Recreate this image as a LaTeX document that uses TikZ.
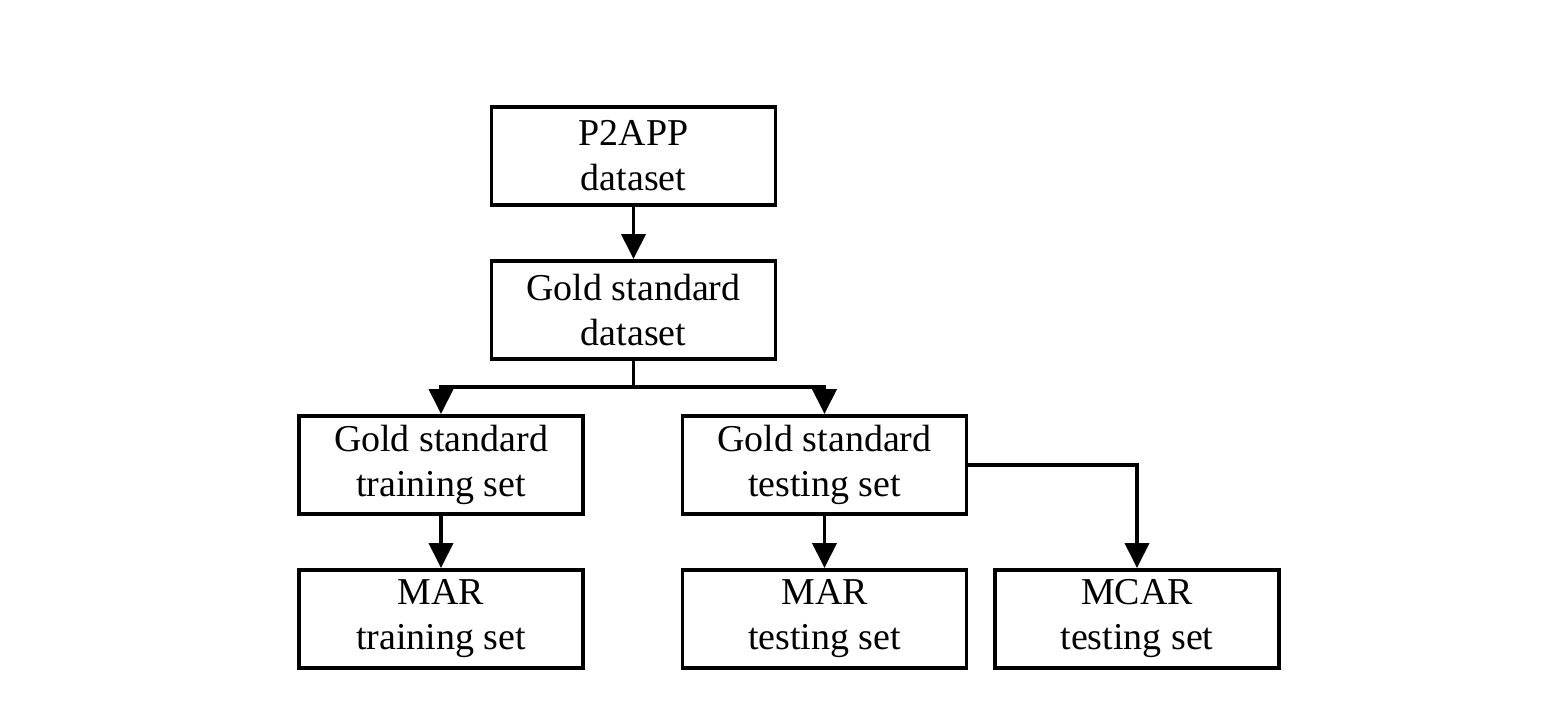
\documentclass[tikz,border=0pt]{standalone}
\usepackage{fontspec}
\setmainfont{Liberation Serif}
\usetikzlibrary{arrows.meta}
\tikzset{
  blk/.style={draw, line width=1.1pt, minimum width=2.84cm, minimum height=0.98cm,
    align=center, inner sep=0pt, font=\fontsize{10.8}{12.8}\selectfont},
  arr/.style={-{Triangle[width=0.24cm,length=0.25cm]}, line width=1.05pt}
}

\begin{document}
\begin{tikzpicture}
    \useasboundingbox (0,0) rectangle (15.46,7.08);
    \node[blk] (P)  at (6.335,5.52) {P2APP\\dataset};
    \node[blk] (G)  at (6.335,3.98) {Gold standard\\dataset};
    \node[blk] (Tr) at (4.41,2.43)  {Gold standard\\training set};
    \node[blk] (Te) at (8.245,2.43) {Gold standard\\testing set};
    \node[blk] (MTr) at (4.41,0.89)  {MAR\\training set};
    \node[blk] (MTe) at (8.245,0.89) {MAR\\testing set};
    \node[blk] (MC)  at (11.37,0.89) {MCAR\\testing set};
    \coordinate (J) at (6.335,3.21);
    \path [arr] (P) edge (G);
    \draw [line width=1.05pt] (G.south) -- (J);
    \draw [arr] (J) -| (Tr.north);
    \draw [arr] (J) -| (Te.north);
    \path [arr] (Tr) edge (MTr);
    \path [arr] (Te) edge (MTe);
    \draw [arr] (Te.east) -| (MC.north);
  \end{tikzpicture}
\end{document}
